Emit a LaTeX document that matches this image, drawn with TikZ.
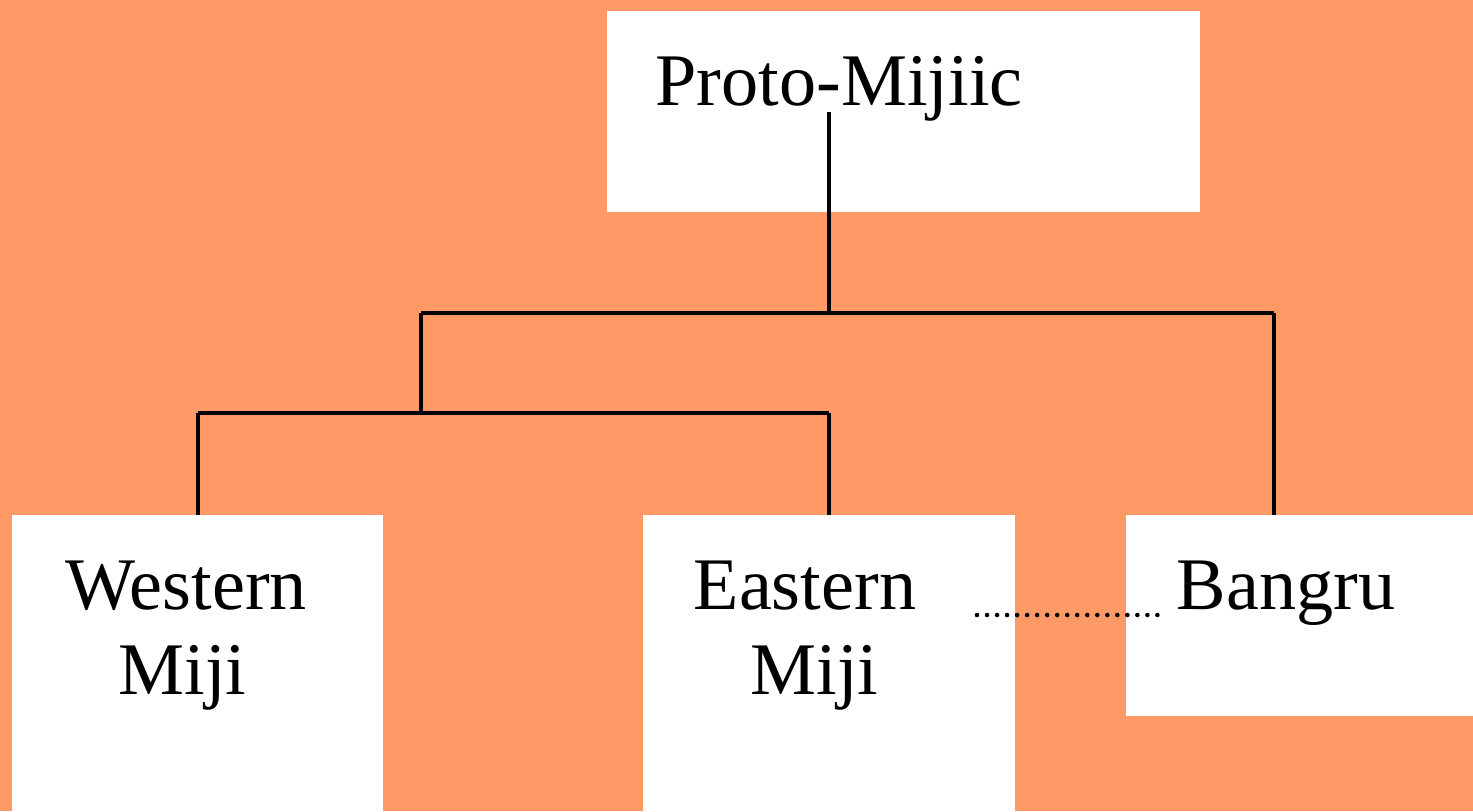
\documentclass[tikz,border=0pt]{standalone}
\usepackage{fontspec}
\setmainfont{Liberation Serif}
\definecolor{bgorange}{HTML}{FF9966}
\begin{document}
\begin{tikzpicture}[x=0.01cm,y=-0.01cm,
  box/.style={fill=white,draw=none,inner sep=0pt,outer sep=0pt},
  lbl/.style={anchor=base west,inner sep=0pt,font=\fontsize{21.1}{24}\selectfont},
  tree/.style={draw=black,line width=1.2pt},
  link/.style={draw=black,line width=1.3pt,line cap=round,dash pattern=on 0pt off 2.85pt}]
\fill[bgorange] (0,0) rectangle (1473,811);
\useasboundingbox (0,0) rectangle (1473,811);
% boxes
\node[box,minimum width=5.93cm,minimum height=2.01cm,anchor=north west] (proto) at (607,11) {};
\node[box,minimum width=3.71cm,minimum height=2.96cm,anchor=north west] (west) at (12,515) {};
\node[box,minimum width=3.72cm,minimum height=2.96cm,anchor=north west] (east) at (643,515) {};
\node[box,minimum width=3.47cm,minimum height=2.01cm,anchor=north west] (bangru) at (1126,515) {};
% labels
\node[lbl] (tproto) at (655,105) {Proto-Mijiic};
\node[lbl] (tw1) at (65,609) {Western};
\node[lbl] (tw2) at (118,694) {Miji};
\node[lbl] (te1) at (693,609) {Eastern};
\node[lbl] (te2) at (750,694) {Miji};
\node[lbl] (tb) at (1176,609) {Bangru};
% tree junctions
\coordinate (ptop) at (829,112);
\coordinate (j1) at (829,313);
\coordinate (j1l) at (421,313);
\coordinate (j1r) at (1274,313);
\coordinate (j2) at (421,413);
\coordinate (j2l) at (198,413);
\coordinate (j2r) at (829,413);
\coordinate (wtop) at (198,515);
\coordinate (etop) at (829,515);
\coordinate (btop) at (1274,515);
\coordinate (d1) at (977,615);
\coordinate (d2) at (1162,615);
\draw[tree] (ptop) -- (j1);
\draw[tree] (j1l) -- (j1r);
\draw[tree] (j1l) -- (j2);
\draw[tree] (j2l) -- (j2r);
\draw[tree] (j2l) -- (wtop);
\draw[tree] (j2r) -- (etop);
\draw[tree] (j1r) -- (btop);
\draw[link] (d1) -- (d2);
\end{tikzpicture}
\end{document}
